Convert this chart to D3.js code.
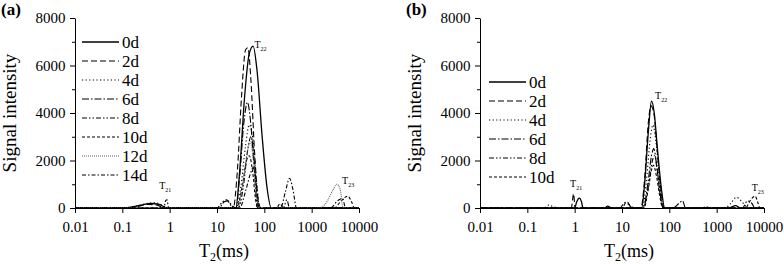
<!DOCTYPE html>
<html><head><meta charset="utf-8">
<script src="https://cdn.jsdelivr.net/npm/d3@7"></script>
<style>
html,body{margin:0;padding:0;background:#fff;}
</style></head>
<body><svg id="chart" width="784" height="264" font-family="Liberation Serif"></svg>
<script>
// ---------- data ----------
const xTicks = [0.01, 0.1, 1, 10, 100, 1000, 10000];
const xTickLabels = ["0.01", "0.1", "1", "10", "100", "1000", "10000"];
const yTicks = [0, 2000, 4000, 6000, 8000];
const yMinorTicks = [1000, 3000, 5000, 7000];

const seriesA = ["0d", "2d", "4d", "6d", "8d", "10d", "12d", "14d"];
const seriesB = ["0d", "2d", "4d", "6d", "8d", "10d"];

// panel (a) : [T2 (ms), signal]
const a0d = [[0.01,0],[0.1,0],[0.15,40],[0.25,120],[0.4,190],[0.6,150],[0.8,30],[0.9,0],[25,0],[30,1500],[38,4600],[48,6500],[58,6820],[70,5800],[90,3000],[115,800],[140,0],[10000,0]];
const a2d = [[0.01,0],[0.12,0],[0.2,60],[0.35,150],[0.55,120],[0.75,0],[22,0],[27,1600],[33,4700],[40,6650],[45,6750],[52,5400],[62,2400],[75,300],[85,0],[10000,0]];
const a4d = [[0.01,0],[0.12,0],[0.2,80],[0.35,200],[0.5,220],[0.7,120],[0.85,0],[25,0],[32,900],[40,2600],[48,3500],[58,2800],[70,900],[80,0],[10000,0]];
const a6d = [[0.01,0],[11,0],[14,250],[17,300],[21,80],[25,0],[30,1300],[37,3600],[44,4450],[52,3500],[62,1500],[72,0],[10000,0]];
const a8d = [[0.01,0],[10,0],[13,250],[16,350],[20,100],[28,0],[36,900],[45,2500],[52,3000],[60,2200],[70,500],[78,0],[250,0],[300,350],[340,0],[10000,0]];
const a10d = [[0.01,0],[26,0],[34,900],[42,2000],[48,2200],[56,1600],[66,300],[72,0],[180,0],[215,180],[250,0],[3000,0],[4200,300],[5800,500],[7000,250],[8000,0],[10000,0]];
const a12d = [[0.01,0],[27,0],[35,1000],[44,2400],[50,2800],[58,2100],[68,600],[76,0],[1400,0],[2000,200],[2800,750],[3400,1000],[4000,800],[4600,0],[10000,0]];
const a14d = [[0.01,0],[0.75,0],[0.82,300],[0.88,350],[0.95,0],[30,0],[40,700],[50,1400],[58,1700],[66,1200],[76,0],[220,0],[280,700],[340,1250],[400,800],[480,0],[2500,0],[3500,300],[4500,400],[5200,0],[10000,0]];

// panel (b)
const b0d = [[0.01,0],[1.0,0],[1.1,250],[1.25,420],[1.4,250],[1.5,0],[26,0],[30,1000],[36,3200],[42,4500],[48,4000],[56,2500],[68,800],[80,0],[1800,0],[2500,100],[3200,0],[10000,0]];
const b2d = [[0.01,0],[0.85,0],[0.95,600],[1.02,0],[25,0],[30,1200],[36,3600],[41,4300],[47,4000],[55,2500],[68,600],[78,0],[10000,0]];
const b4d = [[0.01,0],[0.22,0],[0.28,120],[0.35,60],[0.45,0],[27,0],[33,1200],[40,3000],[45,3500],[52,2800],[62,1200],[75,0],[1500,0],[2000,200],[2600,450],[3300,300],[4000,100],[4500,0],[10000,0]];
const b6d = [[0.01,0],[9,0],[11,200],[13,250],[16,0],[28,0],[35,1000],[42,2200],[47,2500],[54,1800],[64,600],[74,0],[120,0],[160,200],[190,300],[220,0],[10000,0]];
const b8d = [[0.01,0],[4,0],[5,80],[6,0],[28,0],[36,900],[44,2000],[49,2200],[56,1500],[66,400],[74,0],[500,0],[600,60],[700,0],[3500,0],[4500,300],[5500,200],[6500,0],[10000,0]];
const b10d = [[0.01,0],[10,0],[12,200],[15,100],[18,0],[29,0],[36,800],[42,1600],[46,1800],[54,1300],[64,400],[72,0],[4000,0],[5500,400],[6500,500],[7500,200],[8200,0],[10000,0]];

// ---------- styles ----------
const FONT = "Liberation Serif";
const dashes = {
  "0d": null, "2d": "6,3", "4d": "1.2,2.4", "6d": "7,2,1.5,2",
  "8d": "5,2,1.5,2,1.5,2", "10d": "3,2", "12d": "1,1", "14d": "4,2,1.5,2"
};
const colors = {"12d": "#666"};

const svg = d3.select("#chart");

function panel(opts) {
  const {x0, x1, yTop, yBot, data, names, legendX, legendY, label, notes} = opts;
  const x = d3.scaleLog().domain([0.01, 10000]).range([x0, x1]);
  const y = d3.scaleLinear().domain([0, 8000]).range([yBot, yTop]);
  const g = svg.append("g");

  const clipId = "clip" + label.replace(/\W/g, "");
  svg.append("clipPath").attr("id", clipId).append("rect")
    .attr("x", x0).attr("y", yTop - 5).attr("width", x1 - x0).attr("height", yBot - yTop + 5);

  // curves
  const line = d3.line().x(d => x(d[0])).y(d => y(d[1])).curve(d3.curveMonotoneX);
  const cg = g.append("g").attr("clip-path", `url(#${clipId})`);
  names.forEach((n, i) => {
    cg.append("path").datum(data[i]).attr("d", line)
      .attr("fill", "none").attr("stroke", colors[n] || "#000")
      .attr("stroke-width", n === "0d" ? 1.3 : 1.1)
      .attr("stroke-dasharray", dashes[n]);
  });

  // axes
  const xa = d3.axisBottom(x).tickValues(xTicks).tickFormat((d, i) => xTickLabels[i]).tickSize(5).tickSizeOuter(0);
  const xg = g.append("g").attr("transform", `translate(0,${yBot})`).call(xa);
  const ya = d3.axisLeft(y).tickValues(yTicks).tickFormat(d3.format("d")).tickSize(5).tickSizeOuter(0);
  const yg = g.append("g").attr("transform", `translate(${x0},0)`).call(ya);
  const ym = d3.axisLeft(y).tickValues(yMinorTicks).tickFormat("").tickSize(3).tickSizeOuter(0);
  const mg = g.append("g").attr("transform", `translate(${x0},0)`).call(ym);
  mg.select(".domain").remove();
  [xg, yg, mg].forEach(a => a.attr("font-family", FONT).attr("font-size", 15));
  xg.selectAll("text").attr("dy", "1.05em");
  yg.selectAll("text").attr("dx", "-0.1em");
  g.selectAll(".domain, .tick line").attr("stroke", "#000").attr("stroke-width", 1);
  g.selectAll(".tick text").attr("fill", "#000").attr("font-family", FONT).attr("font-size", 15);

  // axis titles
  g.append("text").attr("transform", `translate(${x0 - 59},${(yTop + yBot) / 2}) rotate(-90)`)
    .attr("text-anchor", "middle").attr("font-size", 19).attr("font-family", FONT).text("Signal intensity");
  const xt = g.append("text").attr("x", (x0 + x1) / 2 + 7).attr("y", 257)
    .attr("text-anchor", "middle").attr("font-size", 18).attr("font-family", FONT);
  xt.append("tspan").text("T");
  xt.append("tspan").attr("font-size", 12).attr("dy", 4).text("2");
  xt.append("tspan").attr("dy", -4).text("(ms)");

  // panel label
  g.append("text").attr("x", x0 - 74).attr("y", 15).attr("font-size", 17).attr("font-weight", "bold")
    .attr("font-family", FONT).text(label);

  // legend
  names.forEach((n, i) => {
    const ly = legendY + i * 19;
    g.append("line").attr("x1", legendX).attr("x2", legendX + 37).attr("y1", ly).attr("y2", ly)
      .attr("stroke", colors[n] || "#000").attr("stroke-width", n === "0d" ? 1.5 : 1.2)
      .attr("stroke-dasharray", dashes[n]);
    g.append("text").attr("x", legendX + 40).attr("y", ly + 6).attr("font-size", 17)
      .attr("font-family", FONT).text(n);
  });

  // peak annotations
  notes.forEach(nt => {
    const t = g.append("text").attr("x", x(nt.t)).attr("y", y(nt.v)).attr("font-size", 10).attr("font-family", FONT);
    t.append("tspan").text("T");
    t.append("tspan").attr("font-size", 6).attr("dy", 3).text(nt.s);
  });
}

panel({
  x0: 75, x1: 359, yTop: 18, yBot: 208,
  data: [a0d, a2d, a4d, a6d, a8d, a10d, a12d, a14d], names: seriesA,
  legendX: 82, legendY: 42, label: "(a)",
  notes: [{t: 0.6, v: 800, s: "21"}, {t: 62, v: 6750, s: "22"}, {t: 4400, v: 1000, s: "23"}]
});
panel({
  x0: 480, x1: 764, yTop: 18, yBot: 208,
  data: [b0d, b2d, b4d, b6d, b8d, b10d], names: seriesB,
  legendX: 489, legendY: 82, label: "(b)",
  notes: [{t: 0.8, v: 900, s: "21"}, {t: 50, v: 4600, s: "22"}, {t: 5500, v: 700, s: "23"}]
});
</script></body></html>
